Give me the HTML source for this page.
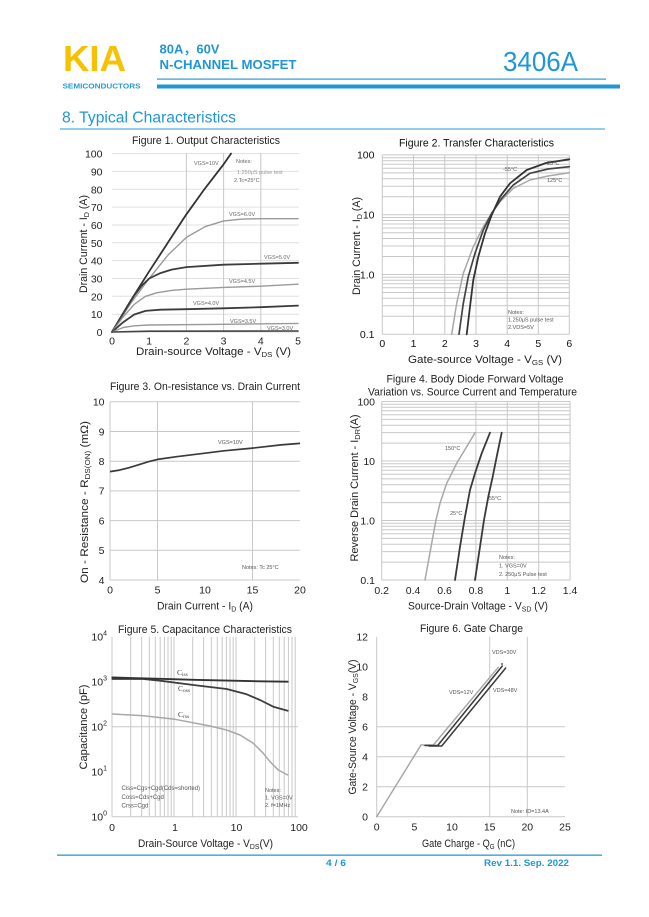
<!DOCTYPE html>
<html><head><meta charset="utf-8"><style>
html,body{margin:0;padding:0;background:#fff;}
svg{display:block;}
</style></head><body>
<svg width="649" height="917" viewBox="0 0 649 917" xmlns="http://www.w3.org/2000/svg" font-family="'Liberation Sans', Arial, 'Noto Sans CJK SC', sans-serif">
<rect width="649" height="917" fill="#fff"/>

<!-- HEADER -->
<text x="63" y="71" font-size="36" font-weight="bold" fill="#f6c100" textLength="63" lengthAdjust="spacingAndGlyphs">KIA</text>
<text x="62.5" y="88.5" font-size="7.2" font-weight="bold" fill="#2a9bd3" textLength="78" lengthAdjust="spacingAndGlyphs">SEMICONDUCTORS</text>
<text x="159.5" y="53.3" font-size="12.5" font-weight="bold" fill="#1f97d4" textLength="60" lengthAdjust="spacingAndGlyphs">80A，60V</text>
<text x="159.5" y="69" font-size="12.5" font-weight="bold" fill="#1f97d4" textLength="137" lengthAdjust="spacingAndGlyphs">N-CHANNEL MOSFET</text>
<text x="503" y="71" font-size="28" fill="#1f97d4" textLength="75" lengthAdjust="spacingAndGlyphs">3406A</text>
<rect x="157" y="78.5" width="449" height="1.2" fill="#2a9bd3"/>
<rect x="157" y="84.5" width="463" height="4" fill="#1f97d4"/>
<text x="62" y="122.5" font-size="15.5" fill="#1f97d4" textLength="174" lengthAdjust="spacingAndGlyphs">8.  Typical Characteristics</text>
<rect x="60" y="128.5" width="545" height="1" fill="#2a9bd3"/>

<!-- ================= FIGURE 1 ================= -->
<g>
<text x="206" y="144" font-size="11" text-anchor="middle" fill="#222" textLength="148" lengthAdjust="spacingAndGlyphs">Figure 1. Output Characteristics</text>
<g stroke="#e0e0e0" stroke-width="1">
<line x1="112" y1="314.2" x2="299" y2="314.2"/><line x1="112" y1="296.3" x2="299" y2="296.3"/>
<line x1="112" y1="278.5" x2="299" y2="278.5"/><line x1="112" y1="260.6" x2="299" y2="260.6"/>
<line x1="112" y1="242.8" x2="299" y2="242.8"/><line x1="112" y1="225" x2="299" y2="225"/>
<line x1="112" y1="207.1" x2="299" y2="207.1"/><line x1="112" y1="189.3" x2="299" y2="189.3"/>
<line x1="112" y1="171.4" x2="299" y2="171.4"/><line x1="112" y1="153.6" x2="299" y2="153.6"/>
</g>
<g stroke="#c8c8c8" stroke-width="1">
<line x1="186.4" y1="153" x2="186.4" y2="332"/><line x1="223.6" y1="153" x2="223.6" y2="332"/><line x1="260.8" y1="153" x2="260.8" y2="332"/>
<line x1="112" y1="332" x2="299" y2="332" stroke="#d8d8d8"/>
</g>
<g fill="none" stroke-linejoin="round" stroke-linecap="round">
<polyline stroke="#333" stroke-width="1.8" points="112,332 130.6,300.8 149.2,271.3 167.8,242.8 186.4,214.3 205,188.4 223.6,164.3 231,153.6"/>
<polyline stroke="#9a9a9a" stroke-width="1.4" points="112,332 130.6,303.5 149.2,278.5 167.8,255.3 186.4,237.4 205,226.7 223.6,220.9 242.2,219.1 260.8,218.7 298,218.7"/>
<polyline stroke="#3c3c3c" stroke-width="1.8" points="112,332 123.2,313.3 134.3,295.4 141.8,285.6 149.2,278.5 160.4,273.1 171.5,269.6 186.4,267.1 223.6,264.7 260.8,263.7 298,262.8"/>
<polyline stroke="#9a9a9a" stroke-width="1.4" points="112,332 123.2,316.8 134.3,304.3 145.5,296.3 156.6,292.8 171.5,290.4 186.4,289.2 223.6,287.4 260.8,286.2 298,284.2"/>
<polyline stroke="#3c3c3c" stroke-width="1.8" points="112,332 123.2,322.2 134.3,314.5 145.5,310.9 160.4,309.7 186.4,309.2 223.6,308.3 260.8,307.2 298,305.6"/>
<polyline stroke="#9a9a9a" stroke-width="1.4" points="112,332 123.2,327.5 134.3,325.8 149.2,325 223.6,324.3 298,323.4"/>
<polyline stroke="#444" stroke-width="1.6" points="112,332 149.2,331.2 298,331"/>
</g>
<g font-size="5.5" fill="#666">
<text x="194" y="165">VGS=10V</text>
<text x="229" y="216">VGS=6.0V</text>
<text x="264" y="259">VGS=5.0V</text>
<text x="229" y="283">VGS=4.5V</text>
<text x="193" y="305">VGS=4.0V</text>
<text x="230" y="323">VGS=3.5V</text>
<text x="267" y="330">VGS=3.0V</text>
<text x="236" y="163">Notes:</text>
<text x="237" y="174" fill="#999">1.250μS pulse test</text>
<text x="234" y="182">2.Tc=25°C</text>
</g>
<g font-size="10.5" fill="#222" text-anchor="end">
<text x="102.5" y="157.6">100</text><text x="102.5" y="175.4">90</text><text x="102.5" y="193.3">80</text>
<text x="102.5" y="211.1">70</text><text x="102.5" y="229">60</text><text x="102.5" y="246.8">50</text>
<text x="102.5" y="264.6">40</text><text x="102.5" y="282.5">30</text><text x="102.5" y="300.3">20</text>
<text x="102.5" y="318.2">10</text><text x="102.5" y="336">0</text>
</g>
<g font-size="10.5" fill="#222" text-anchor="middle">
<text x="112" y="344.5">0</text><text x="149.2" y="344.5">1</text><text x="186.4" y="344.5">2</text>
<text x="223.6" y="344.5">3</text><text x="260.8" y="344.5">4</text><text x="298" y="344.5">5</text>
</g>
<text x="213.5" y="355" font-size="11" text-anchor="middle" fill="#222" textLength="155" lengthAdjust="spacingAndGlyphs">Drain-source Voltage - V<tspan font-size="7.5" dy="2">DS</tspan><tspan dy="-2"> (V)</tspan></text>
<text transform="translate(87,244) rotate(-90)" font-size="11" text-anchor="middle" fill="#222" textLength="98" lengthAdjust="spacingAndGlyphs">Drain Current - I<tspan font-size="7.5" dy="2">D</tspan><tspan dy="-2"> (A)</tspan></text>
</g>

<!-- ================= FIGURE 2 ================= -->
<g>
<text x="476.5" y="146.5" font-size="11" text-anchor="middle" fill="#111" textLength="155" lengthAdjust="spacingAndGlyphs">Figure 2. Transfer Characteristics</text>
<g stroke="#c8c8c8" stroke-width="1">
<line x1="382.3" y1="316.3" x2="569.3" y2="316.3"/><line x1="382.3" y1="305.8" x2="569.3" y2="305.8"/><line x1="382.3" y1="298.3" x2="569.3" y2="298.3"/>
<line x1="382.3" y1="292.5" x2="569.3" y2="292.5"/><line x1="382.3" y1="287.8" x2="569.3" y2="287.8"/><line x1="382.3" y1="283.8" x2="569.3" y2="283.8"/>
<line x1="382.3" y1="280.3" x2="569.3" y2="280.3"/><line x1="382.3" y1="277.3" x2="569.3" y2="277.3"/><line x1="382.3" y1="274.5" x2="569.3" y2="274.5"/>
<line x1="382.3" y1="256.5" x2="569.3" y2="256.5"/><line x1="382.3" y1="246" x2="569.3" y2="246"/><line x1="382.3" y1="238.5" x2="569.3" y2="238.5"/>
<line x1="382.3" y1="232.7" x2="569.3" y2="232.7"/><line x1="382.3" y1="228" x2="569.3" y2="228"/><line x1="382.3" y1="224" x2="569.3" y2="224"/>
<line x1="382.3" y1="220.5" x2="569.3" y2="220.5"/><line x1="382.3" y1="217.5" x2="569.3" y2="217.5"/><line x1="382.3" y1="214.7" x2="569.3" y2="214.7"/>
<line x1="382.3" y1="196.7" x2="569.3" y2="196.7"/><line x1="382.3" y1="186.2" x2="569.3" y2="186.2"/><line x1="382.3" y1="178.7" x2="569.3" y2="178.7"/>
<line x1="382.3" y1="172.9" x2="569.3" y2="172.9"/><line x1="382.3" y1="168.2" x2="569.3" y2="168.2"/><line x1="382.3" y1="164.2" x2="569.3" y2="164.2"/>
<line x1="382.3" y1="160.7" x2="569.3" y2="160.7"/><line x1="382.3" y1="157.7" x2="569.3" y2="157.7"/><line x1="382.3" y1="154.9" x2="569.3" y2="154.9"/>
<line x1="382.3" y1="154.9" x2="382.3" y2="334.3"/><line x1="413.5" y1="154.9" x2="413.5" y2="334.3"/><line x1="444.8" y1="154.9" x2="444.8" y2="334.3"/>
<line x1="476" y1="154.9" x2="476" y2="334.3"/><line x1="507.2" y1="154.9" x2="507.2" y2="334.3"/><line x1="538.3" y1="154.9" x2="538.3" y2="334.3"/>
<line x1="569.3" y1="154.9" x2="569.3" y2="334.3"/>
<line x1="382.3" y1="334.3" x2="569.3" y2="334.3"/>
</g>
<g fill="none" stroke-linejoin="round" stroke-linecap="round">
<polyline stroke="#a8a8a8" stroke-width="1.5" points="451.7,334.3 456.7,303.3 463.3,273.3 473.3,246.7 483.3,226.7 491.7,213.3 500,201.7 513.3,188.3 530,180 548,176 569.3,172.7"/>
<polyline stroke="#444" stroke-width="1.7" points="459,334.3 463.3,303.3 468.3,276.7 475,253.3 483.3,230 491.7,213.3 501.7,198.3 513.3,185 530,173.3 548,169 569.3,166.7"/>
<polyline stroke="#333" stroke-width="1.8" points="466.7,334.3 470,306.7 473.3,280 478.3,256.7 485,233.3 491.7,215 500,196.7 510,183.3 526.7,170 546,163 569.3,159.3"/>
</g>
<g font-size="5.5" fill="#555">
<text x="503" y="171">-55°C</text>
<text x="547" y="165">25°C</text>
<text x="547" y="182">125°C</text>
<text x="508" y="314">Notes:</text>
<text x="508" y="321.5">1.250μS pulse test</text>
<text x="508" y="329">2.VDS=5V</text>
</g>
<g font-size="10.5" fill="#111" text-anchor="end">
<text x="374.5" y="158.7">100</text><text x="374.5" y="218.5">10</text><text x="374.5" y="278.3">1.0</text><text x="374.5" y="338">0.1</text>
</g>
<g font-size="10.5" fill="#111" text-anchor="middle">
<text x="382.3" y="347">0</text><text x="413.5" y="347">1</text><text x="444.8" y="347">2</text><text x="476" y="347">3</text>
<text x="507.2" y="347">4</text><text x="538.3" y="347">5</text><text x="569.3" y="347">6</text>
</g>
<text x="485" y="363" font-size="11" text-anchor="middle" fill="#222" textLength="154" lengthAdjust="spacingAndGlyphs">Gate-source Voltage - V<tspan font-size="7.5" dy="2">GS</tspan><tspan dy="-2"> (V)</tspan></text>
<text transform="translate(360,246) rotate(-90)" font-size="11" text-anchor="middle" fill="#222" textLength="98" lengthAdjust="spacingAndGlyphs">Drain Current - I<tspan font-size="7.5" dy="2">D</tspan><tspan dy="-2"> (A)</tspan></text>
</g>

<!-- ================= FIGURE 3 ================= -->
<g>
<text x="205" y="390" font-size="11" text-anchor="middle" fill="#222" textLength="190" lengthAdjust="spacingAndGlyphs">Figure 3. On-resistance vs. Drain Current</text>
<g stroke="#c8c8c8" stroke-width="1">
<line x1="110" y1="401.8" x2="300" y2="401.8"/><line x1="110" y1="431.5" x2="300" y2="431.5"/><line x1="110" y1="461.2" x2="300" y2="461.2"/>
<line x1="110" y1="490.9" x2="300" y2="490.9"/><line x1="110" y1="520.6" x2="300" y2="520.6"/><line x1="110" y1="550.3" x2="300" y2="550.3"/>
<line x1="110" y1="580" x2="300" y2="580"/>
<line x1="110" y1="401.8" x2="110" y2="580"/>
<line x1="157.5" y1="401.8" x2="157.5" y2="580"/><line x1="252.5" y1="401.8" x2="252.5" y2="580"/>
</g>
<polyline fill="none" stroke="#3a3a3a" stroke-width="1.7" stroke-linejoin="round" points="110,471.6 119.5,470.1 129,467.7 138.5,464.8 148,461.8 157.5,459.4 176.5,456.7 205,453.2 224,450.8 252.5,448.1 281,444.9 300,443.4"/>
<g font-size="5.5" fill="#555">
<text x="218" y="444">VGS=10V</text>
<text x="242" y="569">Notes: Tc 25°C</text>
</g>
<g font-size="10.5" fill="#222" text-anchor="end">
<text x="104.5" y="405.6">10</text><text x="104.5" y="435.3">9</text><text x="104.5" y="465">8</text><text x="104.5" y="494.7">7</text>
<text x="104.5" y="524.4">6</text><text x="104.5" y="554.1">5</text><text x="104.5" y="583.8">4</text>
</g>
<g font-size="10.5" fill="#222" text-anchor="middle">
<text x="110" y="593.5">0</text><text x="157.5" y="593.5">5</text><text x="205" y="593.5">10</text><text x="252.5" y="593.5">15</text><text x="300" y="593.5">20</text>
</g>
<text x="205" y="609.5" font-size="11" text-anchor="middle" fill="#222" textLength="96" lengthAdjust="spacingAndGlyphs">Drain Current - I<tspan font-size="7.5" dy="2">D</tspan><tspan dy="-2"> (A)</tspan></text>
<text transform="translate(88,502) rotate(-90)" font-size="11" text-anchor="middle" fill="#222" textLength="162" lengthAdjust="spacingAndGlyphs">On - Resistance - R<tspan font-size="7.5" dy="2">DS(ON)</tspan><tspan dy="-2"> (mΩ)</tspan></text>
</g>

<!-- ================= FIGURE 4 ================= -->
<g>
<text x="475" y="382.5" font-size="11" text-anchor="middle" fill="#222" textLength="177" lengthAdjust="spacingAndGlyphs">Figure 4. Body Diode Forward Voltage</text>
<text x="472.5" y="395.5" font-size="11" text-anchor="middle" fill="#222" textLength="209" lengthAdjust="spacingAndGlyphs">Variation vs. Source Current and Temperature</text>
<g stroke="#c8c8c8" stroke-width="1">
<line x1="381.7" y1="562.1" x2="570.1" y2="562.1"/><line x1="381.7" y1="551.6" x2="570.1" y2="551.6"/><line x1="381.7" y1="544.2" x2="570.1" y2="544.2"/>
<line x1="381.7" y1="538.4" x2="570.1" y2="538.4"/><line x1="381.7" y1="533.7" x2="570.1" y2="533.7"/><line x1="381.7" y1="529.7" x2="570.1" y2="529.7"/>
<line x1="381.7" y1="526.3" x2="570.1" y2="526.3"/><line x1="381.7" y1="523.2" x2="570.1" y2="523.2"/><line x1="381.7" y1="520.5" x2="570.1" y2="520.5"/>
<line x1="381.7" y1="502.6" x2="570.1" y2="502.6"/><line x1="381.7" y1="492.1" x2="570.1" y2="492.1"/><line x1="381.7" y1="484.7" x2="570.1" y2="484.7"/>
<line x1="381.7" y1="478.9" x2="570.1" y2="478.9"/><line x1="381.7" y1="474.2" x2="570.1" y2="474.2"/><line x1="381.7" y1="470.2" x2="570.1" y2="470.2"/>
<line x1="381.7" y1="466.8" x2="570.1" y2="466.8"/><line x1="381.7" y1="463.7" x2="570.1" y2="463.7"/><line x1="381.7" y1="461" x2="570.1" y2="461"/>
<line x1="381.7" y1="443.1" x2="570.1" y2="443.1"/><line x1="381.7" y1="432.6" x2="570.1" y2="432.6"/><line x1="381.7" y1="425.2" x2="570.1" y2="425.2"/>
<line x1="381.7" y1="419.4" x2="570.1" y2="419.4"/><line x1="381.7" y1="414.7" x2="570.1" y2="414.7"/><line x1="381.7" y1="410.7" x2="570.1" y2="410.7"/>
<line x1="381.7" y1="407.3" x2="570.1" y2="407.3"/><line x1="381.7" y1="404.2" x2="570.1" y2="404.2"/><line x1="381.7" y1="401.5" x2="570.1" y2="401.5"/>
<line x1="381.7" y1="580" x2="570.1" y2="580"/>
<line x1="381.7" y1="401.5" x2="381.7" y2="580"/>
<line x1="475.9" y1="401.5" x2="475.9" y2="580"/><line x1="507.3" y1="401.5" x2="507.3" y2="580"/>
<line x1="538.7" y1="401.5" x2="538.7" y2="580"/><line x1="570.1" y1="401.5" x2="570.1" y2="580"/>
</g>
<g fill="none" stroke-linejoin="round" stroke-linecap="round">
<polyline stroke="#a8a8a8" stroke-width="1.5" points="425,580 431.7,543.3 436,520 440,503.3 446.7,483.3 456.7,463.3 466.7,446.7 475,432.7"/>
<polyline stroke="#3a3a3a" stroke-width="1.8" points="455,580 460,546.7 465,516.7 470,490 475,473.3 481.7,453.3 490,432.7"/>
<polyline stroke="#3a3a3a" stroke-width="1.8" points="475,580 480,546.7 484,520 488.3,496.7 492.7,476.7 496.7,456.7 501.7,432.7"/>
</g>
<g font-size="5.5" fill="#555">
<text x="445" y="450">150°C</text>
<text x="450" y="515">25°C</text>
<text x="487" y="500">-55°C</text>
<text x="499" y="559">Notes:</text>
<text x="499" y="567.5">1. VGS=0V</text>
<text x="499" y="576">2. 250μS Pulse test</text>
</g>
<g font-size="10.5" fill="#222" text-anchor="end">
<text x="375" y="405.3">100</text><text x="375" y="464.8">10</text><text x="375" y="524.3">1.0</text><text x="375" y="583.8">0.1</text>
</g>
<g font-size="10.5" fill="#222" text-anchor="middle">
<text x="381.7" y="594">0.2</text><text x="413.1" y="594">0.4</text><text x="444.5" y="594">0.6</text><text x="475.9" y="594">0.8</text>
<text x="507.3" y="594">1</text><text x="538.7" y="594">1.2</text><text x="570.1" y="594">1.4</text>
</g>
<text x="478" y="609.5" font-size="11" text-anchor="middle" fill="#222" textLength="140" lengthAdjust="spacingAndGlyphs">Source-Drain Voltage - V<tspan font-size="7.5" dy="2">SD</tspan><tspan dy="-2"> (V)</tspan></text>
<text transform="translate(358,488) rotate(-90)" font-size="11" text-anchor="middle" fill="#222" textLength="147" lengthAdjust="spacingAndGlyphs">Reverse Drain Current - I<tspan font-size="7.5" dy="2">DR</tspan><tspan dy="-2">(A)</tspan></text>
</g>

<!-- ================= FIGURE 5 ================= -->
<g>
<text x="205" y="633" font-size="11" text-anchor="middle" fill="#222" textLength="174" lengthAdjust="spacingAndGlyphs">Figure 5. Capacitance Characteristics</text>
<g stroke="#c8c8c8" stroke-width="1">
<line x1="112" y1="636.7" x2="112" y2="816.7"/>
<line x1="130.7" y1="636.7" x2="130.7" y2="816.7"/><line x1="141.6" y1="636.7" x2="141.6" y2="816.7"/><line x1="149.3" y1="636.7" x2="149.3" y2="816.7"/>
<line x1="155.3" y1="636.7" x2="155.3" y2="816.7"/><line x1="160.2" y1="636.7" x2="160.2" y2="816.7"/><line x1="164.4" y1="636.7" x2="164.4" y2="816.7"/>
<line x1="168" y1="636.7" x2="168" y2="816.7"/><line x1="171.2" y1="636.7" x2="171.2" y2="816.7"/><line x1="174" y1="636.7" x2="174" y2="816.7"/>
<line x1="192.7" y1="636.7" x2="192.7" y2="816.7"/><line x1="203.6" y1="636.7" x2="203.6" y2="816.7"/><line x1="211.3" y1="636.7" x2="211.3" y2="816.7"/>
<line x1="217.3" y1="636.7" x2="217.3" y2="816.7"/><line x1="222.2" y1="636.7" x2="222.2" y2="816.7"/><line x1="226.4" y1="636.7" x2="226.4" y2="816.7"/>
<line x1="230" y1="636.7" x2="230" y2="816.7"/><line x1="233.2" y1="636.7" x2="233.2" y2="816.7"/><line x1="236" y1="636.7" x2="236" y2="816.7"/>
<line x1="254.7" y1="636.7" x2="254.7" y2="816.7"/><line x1="265.6" y1="636.7" x2="265.6" y2="816.7"/><line x1="273.3" y1="636.7" x2="273.3" y2="816.7"/>
<line x1="279.3" y1="636.7" x2="279.3" y2="816.7"/><line x1="284.2" y1="636.7" x2="284.2" y2="816.7"/><line x1="288.4" y1="636.7" x2="288.4" y2="816.7"/>
<line x1="292" y1="636.7" x2="292" y2="816.7"/><line x1="295.2" y1="636.7" x2="295.2" y2="816.7"/>
<line x1="112" y1="726.7" x2="298" y2="726.7"/>
<line x1="112" y1="816.7" x2="298" y2="816.7"/>
</g>
<g fill="none" stroke-linejoin="round" stroke-linecap="round">
<polyline stroke="#a8a8a8" stroke-width="1.5" points="112.3,714 143.3,715.7 175,719.3 210,726 226.7,730 240,735 253.3,743.3 263.3,753.3 270,761.7 278.3,770 287.7,775"/>
<polyline stroke="#3e3e3e" stroke-width="1.8" points="112.3,679 143.3,679 160,680.7 193.3,685 226.7,689 246.7,694.3 260,700 273.3,706.7 287.7,710.7"/>
<polyline stroke="#333" stroke-width="1.9" points="112.3,677.5 160,678.8 193.3,679.8 226.7,680.6 260,681.3 287.7,681.7"/>
</g>
<g font-family="'Liberation Serif', serif" font-size="7.5" fill="#444">
<text x="177" y="675">C<tspan font-size="5.5" dy="1">iss</tspan></text>
<text x="178" y="691">C<tspan font-size="5.5" dy="1">oss</tspan></text>
<text x="178" y="717">C<tspan font-size="5.5" dy="1">rss</tspan></text>
</g>
<g font-size="6" fill="#555">
<text x="121.5" y="790">Ciss=Cgs+Cgd(Cds=shorted)</text>
<text x="121.5" y="799">Coss=Cds+Cgd</text>
<text x="121.5" y="807.5">Crss=Cgd</text>
<text x="265" y="792" font-size="5.5">Notes:</text>
<text x="265" y="799.5" font-size="5.5">1. VGS=0V</text>
<text x="265" y="807" font-size="5.5">2. f=1MHz</text>
</g>
<g font-size="10.5" fill="#222" text-anchor="end">
<text x="107" y="640.5">10<tspan font-size="7" dy="-5">4</tspan></text>
<text x="107" y="685.5">10<tspan font-size="7" dy="-5">3</tspan></text>
<text x="107" y="730.5">10<tspan font-size="7" dy="-5">2</tspan></text>
<text x="107" y="775.5">10<tspan font-size="7" dy="-5">1</tspan></text>
<text x="107" y="820.5">10<tspan font-size="7" dy="-5">0</tspan></text>
</g>
<g font-size="10.5" fill="#222" text-anchor="middle">
<text x="112" y="831">0</text><text x="175" y="831">1</text><text x="236.5" y="831">10</text><text x="299" y="831">100</text>
</g>
<text x="205.5" y="847" font-size="11" text-anchor="middle" fill="#222" textLength="135" lengthAdjust="spacingAndGlyphs">Drain-Source Voltage - V<tspan font-size="7.5" dy="2">DS</tspan><tspan dy="-2">(V)</tspan></text>
<text transform="translate(87,727) rotate(-90)" font-size="11" text-anchor="middle" fill="#222" textLength="85" lengthAdjust="spacingAndGlyphs">Capacitance (pF)</text>
</g>

<!-- ================= FIGURE 6 ================= -->
<g>
<text x="471.5" y="632" font-size="11" text-anchor="middle" fill="#222" textLength="103" lengthAdjust="spacingAndGlyphs">Figure 6. Gate Charge</text>
<g stroke="#c8c8c8" stroke-width="1">
<line x1="376.7" y1="636.7" x2="376.7" y2="816.7"/>
<line x1="489.7" y1="636.7" x2="489.7" y2="816.7"/><line x1="527.3" y1="636.7" x2="527.3" y2="816.7"/>
<line x1="376.7" y1="786.7" x2="565" y2="786.7"/><line x1="376.7" y1="756.7" x2="565" y2="756.7"/><line x1="376.7" y1="726.7" x2="565" y2="726.7"/>
<line x1="376.7" y1="816.7" x2="565" y2="816.7"/>
</g>
<g fill="none" stroke-linejoin="round" stroke-linecap="round">
<polyline stroke="#a8a8a8" stroke-width="1.5" points="376.7,816.7 421,745 433.3,745 498.3,667.3"/>
<polyline stroke="#3a3a3a" stroke-width="1.5" points="425,745.5 437.7,745.5 502.3,666"/>
<polyline stroke="#3a3a3a" stroke-width="1.5" points="429,746 441.7,746 505.7,668"/>
</g>
<circle cx="502" cy="664" r="0.9" fill="#333"/>
<g font-size="5.5" fill="#555">
<text x="492" y="654">VDS=30V</text>
<text x="449" y="694">VDS=12V</text>
<text x="493" y="692">VDS=48V</text>
<text x="511" y="813">Note: ID=13.4A</text>
</g>
<g font-size="10.5" fill="#222" text-anchor="end">
<text x="368" y="640.5">12</text><text x="368" y="670.5">10</text><text x="368" y="700.5">8</text><text x="368" y="730.5">6</text>
<text x="368" y="760.5">4</text><text x="368" y="790.5">2</text><text x="368" y="820.5">0</text>
</g>
<g font-size="10.5" fill="#222" text-anchor="middle">
<text x="376.7" y="830.5">0</text><text x="414.4" y="830.5">5</text><text x="452" y="830.5">10</text>
<text x="489.7" y="830.5">15</text><text x="527.3" y="830.5">20</text><text x="565" y="830.5">25</text>
</g>
<text x="468.5" y="847" font-size="11" text-anchor="middle" fill="#222" textLength="93" lengthAdjust="spacingAndGlyphs">Gate Charge - Q<tspan font-size="7.5" dy="2">G</tspan><tspan dy="-2"> (nC)</tspan></text>
<text transform="translate(356,727) rotate(-90)" font-size="11" text-anchor="middle" fill="#222" textLength="135" lengthAdjust="spacingAndGlyphs">Gate-Source Voltage - V<tspan font-size="7.5" dy="2">GS</tspan><tspan dy="-2">(V)</tspan></text>
</g>

<!-- FOOTER -->
<rect x="57" y="854.5" width="545" height="1.3" fill="#2a9bd3"/>
<text x="326" y="866" font-size="9.5" font-weight="bold" fill="#1f97d4" textLength="20" lengthAdjust="spacingAndGlyphs">4 / 6</text>
<text x="484" y="866" font-size="9.5" font-weight="bold" fill="#1f97d4" textLength="85" lengthAdjust="spacingAndGlyphs">Rev 1.1. Sep. 2022</text>
</svg>
</body></html>
